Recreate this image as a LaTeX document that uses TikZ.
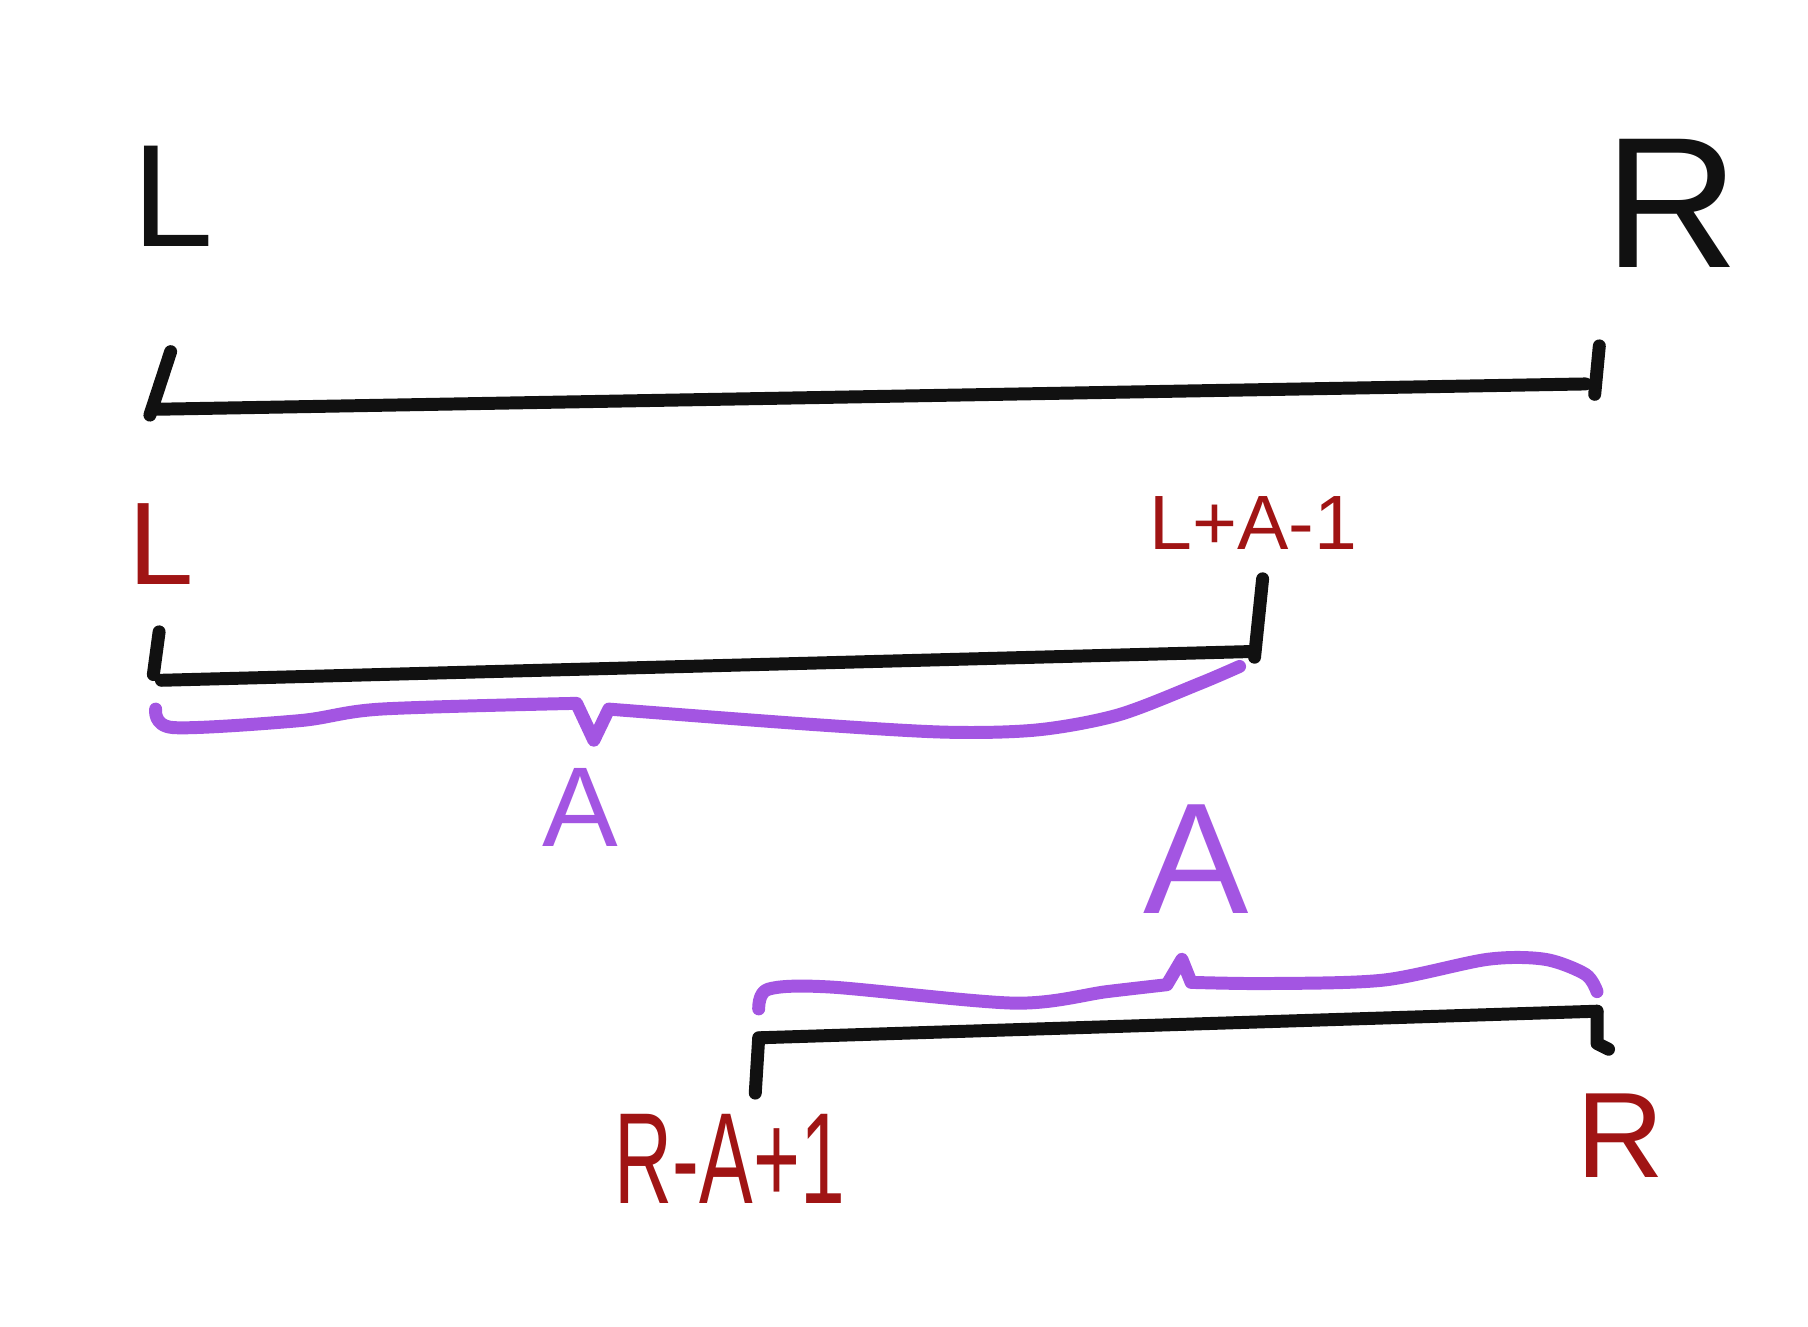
\documentclass[tikz,border=0pt]{standalone}
\usepackage{fontspec}
\setmainfont{Liberation Sans}
\usepackage{graphicx}
\usetikzlibrary{positioning,calc}
\definecolor{skInk}{HTML}{111111}
\definecolor{skRed}{HTML}{A01414}
\definecolor{skPurple}{HTML}{A355E2}
\tikzset{
  seg/.style={draw=skInk, line width=3.2pt, line cap=round, line join=round},
  brc/.style={draw=skPurple, line width=3.2pt, line cap=round, line join=round},
  lblK/.style={text=skInk, inner sep=0pt},
  lblR/.style={text=skRed, inner sep=0pt},
  lblP/.style={text=skPurple, inner sep=0pt},
}
\begin{document}
\begin{tikzpicture}
  \useasboundingbox (0,0) rectangle (15.68,11.50);
  % top segment
  \node[lblK, font=\fontsize{36}{36}\selectfont] (l1) at (1.50,9.80) {L};
  \node[lblK, font=\fontsize{46}{46}\selectfont] (r1) at (14.50,9.74) {R};
  \coordinate (a) at (1.33,7.95);
  \coordinate (b) at (13.75,8.17);
  \draw[seg] (a) -- (b);
  \draw[seg] (1.48,8.45) -- (1.30,7.90);
  \draw[seg] (13.87,8.50) -- (13.83,8.08);
  % left window
  \node[lblR, font=\fontsize{29}{29}\selectfont] (l2) at (1.40,6.78) {L};
  \node[lblR, font=\fontsize{19}{19}\selectfont] (la) at (10.87,6.96) {L+A-1};
  \coordinate (c) at (1.40,5.60);
  \coordinate (d) at (10.88,5.85);
  \draw[seg] (c) -- (d);
  \draw[seg] (1.38,6.02) -- (1.33,5.65);
  \draw[seg] (10.95,6.48) -- (10.88,5.80);
  \draw[brc] plot[smooth, tension=0.5] coordinates {(1.35,5.35) (1.50,5.19) (2.6,5.25) (3.3,5.35) (5.0,5.40)}
    -- (5.15,5.08) -- (5.28,5.35)
    plot[smooth, tension=0.5] coordinates {(5.28,5.35) (7.0,5.22) (8.2,5.15) (9.0,5.17) (9.7,5.30) (10.4,5.57) (10.75,5.72)};
  \node[lblP, font=\fontsize{28}{28}\selectfont] (w1) at (5.03,4.50) {A};
  % right window
  \node[lblP, font=\fontsize{39}{39}\selectfont] (w2) at (10.37,4.05) {A};
  \draw[brc] plot[smooth, tension=0.5] coordinates {(6.58,2.75) (6.66,2.92) (7.2,2.94) (8.8,2.80) (9.6,2.90) (10.12,2.96)}
    -- (10.25,3.18) -- (10.33,2.98)
    plot[smooth, tension=0.5] coordinates {(10.33,2.98) (11.0,2.97) (12.0,3.00) (12.9,3.18) (13.4,3.18) (13.75,3.05) (13.85,2.90)};
  \coordinate (e) at (6.60,2.50);
  \coordinate (f) at (13.85,2.73);
  \draw[seg] (e) -- (f);
  \draw[seg] (6.58,2.50) -- (6.55,2.02);
  \draw[seg] (f) -- (13.85,2.45) -- (13.95,2.40);
  \node[lblR, font=\fontsize{32}{32}\selectfont] (ra) at (6.33,1.45) {\scalebox{0.62}[1]{R-A+1}};
  \node[lblR, font=\fontsize{30}{30}\selectfont] (r2) at (14.05,1.65) {R};
\end{tikzpicture}
\end{document}
